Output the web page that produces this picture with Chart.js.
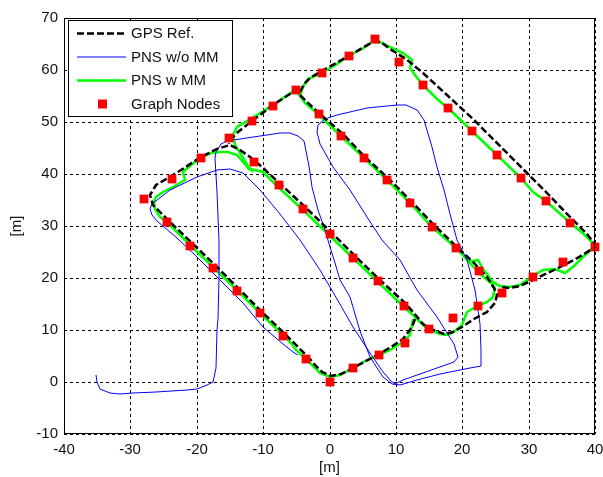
<!DOCTYPE html>
<html>
<head>
<meta charset="utf-8">
<script src="https://cdn.jsdelivr.net/npm/chart.js@4.4.1/dist/chart.umd.min.js"></script>
<style>
  html, body { margin: 0; padding: 0; background: #fff; }
  #wrap { width: 603px; height: 477px; }
</style>
</head>
<body>
<div id="wrap"><canvas id="c" width="603" height="477"></canvas></div>
<script>
// ---- Data (units: metres) ----
const xTicks = [-40, -30, -20, -10, 0, 10, 20, 30, 40];
const yTicks = [-10, 0, 10, 20, 30, 40, 50, 60, 70];

const seriesLabels = ['GPS Ref.', 'PNS w/o MM', 'PNS w MM', 'Graph Nodes'];

// GPS reference, part 1
const gpsPart1 = [
  [12.9,12.2],[12.4,10.6],[11.1,8.3],[9.3,6.7],[7.4,5.3],[5.5,4.0],[3.6,2.7],[1.8,1.6],[0.3,1.2],
  [-1.2,2.0],[-2.4,3.4],[-3.0,4.5],[-6.5,9.0],[-10.0,13.3],[-13.5,17.7],[-17.0,22.1],[-20.6,26.5],
  [-24.2,31.0],[-26.6,34.0],[-27.1,35.9],[-26.1,37.8],[-24.3,39.3],[-22.3,40.7],[-19.3,43.3],
  [-17.0,44.9],[-15.0,45.5],[-13.5,44.6],[-12.0,43.3],[-10.2,41.3],[-8.0,38.8],[-4.0,34.0],
  [0.3,28.8],[3.9,24.2],[7.6,19.7],[11.3,15.1],[12.6,13.4],[14.1,11.2],[15.3,10.1],[17.2,9.3],
  [18.6,9.7],[19.9,10.6],[21.7,12.2],[23.7,13.5],[25.0,15.1],[25.2,16.7],[24.8,18.1],[23.7,20.2],
  [21.7,22.8],[19.7,25.3],[15.8,30.2],[12.4,34.6],[8.9,39.0],[5.4,43.3],[2.0,47.6],[-1.5,51.6],
  [-3.3,53.6],[-4.4,55.1],[-5.0,56.1],[-8.5,53.3],[-11.7,50.1],[-13.8,48.0],[-15.0,46.6],[-15.2,45.8]
];
// GPS reference, part 2
const gpsPart2 = [
  [-4.5,55.8],[-3.9,57.3],[-3.0,58.5],[-1.4,59.6],[2.6,62.5],[5.2,64.4],[6.6,65.4],[7.8,65.3],
  [9.1,64.1],[11.6,62.2],[14.1,59.4],[17.7,55.1],[21.7,50.3],[25.2,45.9],[29.7,40.1],[32.7,36.3],
  [35.8,32.4],[38.8,28.5],[39.8,26.8],[39.6,25.6],[38.3,24.6],[36.8,23.4],[33.8,21.5],[30.7,19.6],
  [28.7,18.4],[27.2,18.1],[25.5,18.3]
];

// PNS without map matching
const pnsNoMM = [
  [-35.2,1.3],[-35.1,0.0],[-34.6,-1.3],[-33.1,-2.1],[-31.6,-2.4],[-29.6,-2.2],[-26.1,-1.9],
  [-21.5,-1.6],[-20.0,-1.3],[-18.5,-0.6],[-17.5,0.0],[-17.1,2.7],[-16.9,10.0],[-16.8,12.2],
  [-16.7,20.0],[-16.6,27.2],[-16.9,36.5],[-17.2,43.0],[-17.1,44.3],[-16.4,45.7],[-15.4,46.4],
  [-13.5,46.8],[-10.5,47.4],[-7.5,47.8],[-6.0,47.9],[-4.7,47.4],[-3.9,46.3],[-3.5,44.5],
  [-3.1,41.5],[-2.7,37.5],[-1.7,33.0],[-0.7,29.2],[0.1,26.0],[0.8,22.8],[1.6,19.6],[3.1,16.3],
  [4.6,9.9],[6.1,4.8],[8.1,1.0],[9.4,-0.3],[10.6,-0.6],[13.2,0.3],[16.7,1.6],[21.2,2.6],
  [22.9,3.0],[22.9,6.1],[22.7,11.2],[21.9,17.6],[20.7,23.4],[19.2,27.3],[18.2,32.4],[17.2,36.9],
  [16.2,41.3],[15.5,45.2],[14.2,50.3],[13.2,52.3],[11.6,53.2],[10.1,53.3],[5.6,52.6],[1.1,51.3],
  [-0.7,50.6],[-1.7,49.4],[-1.9,48.1],[-1.4,45.8],[0.6,41.3],[3.1,36.9],[5.6,31.7],[7.9,27.3],
  [10.6,23.4],[13.2,17.6],[16.2,12.5],[18.7,7.4],[19.4,4.8],[18.7,3.8],[16.2,2.6],[13.7,1.6],
  [11.1,0.3],[9.9,-0.4],[9.3,0.2],[8.1,1.9],[6.1,5.5],[3.6,10.6],[1.2,16.0],[-1.4,21.5],
  [-4.4,27.3],[-7.5,32.4],[-10.5,36.9],[-13.0,40.1],[-15.0,41.0],[-17.0,40.7],[-20.0,39.4],
  [-24.1,36.9],[-26.8,34.2],[-27.0,33.2],[-26.7,32.2],[-26.0,31.0],[-23.0,27.6],[-20.0,24.0],
  [-16.5,19.6],[-13.0,15.1],[-10.0,10.6],[-7.0,7.4],[-5.5,5.8],[-4.8,5.2]
];

// PNS with map matching, part 1
const pnsMMPart1 = [
  [12.6,12.2],[12.4,10.9],[12.1,9.0],[11.1,7.7],[9.1,6.1],[7.4,5.1],[5.6,4.2],[3.6,2.6],[1.6,1.4],
  [0.1,1.0],[-1.4,1.7],[-3.4,4.2],[-5.0,6.2],[-5.6,7.3],[-7.0,9.0],[-10.5,13.2],[-14.0,17.6],
  [-17.5,22.1],[-21.0,26.3],[-24.3,30.5],[-25.6,31.7],[-26.3,33.3],[-26.5,34.6],[-26.1,35.6],
  [-25.1,36.5],[-23.6,37.5],[-21.8,38.8],[-22.1,40.4],[-20.8,41.7],[-19.3,43.0],[-17.8,44.0],
  [-16.5,44.2],[-15.3,44.2],[-14.0,43.6],[-13.0,42.3],[-12.2,41.0],[-11.2,40.7],[-10.0,40.4],
  [-8.0,37.8],[-4.2,33.3],[-0.2,28.5],[3.5,23.8],[7.2,19.4],[11.1,14.7],[12.6,12.8],[14.1,10.9],
  [14.9,10.1],[16.7,9.3],[17.9,9.1],[18.9,9.8],[19.9,10.9],[20.7,13.5],[21.4,14.1],[22.3,14.7],
  [23.7,15.4],[24.7,16.3],[25.0,18.0],[24.3,19.0],[22.5,21.0],[21.0,23.0],[19.0,25.8],[15.5,29.9],
  [12.2,34.4],[8.7,38.8],[5.2,43.0],[1.8,47.4],[-1.7,51.6],[-3.7,53.6],[-4.5,55.0],[-5.2,56.1],
  [-8.5,53.2],[-12.2,50.3],[-14.0,49.0],[-14.5,47.5],[-14.2,45.5],[-13.2,43.5],[-12.3,41.5],[-11.5,40.4]
];
// PNS with map matching, part 2
const pnsMMPart2 = [
  [-4.5,55.2],[-3.9,57.1],[-3.2,58.3],[-1.2,59.5],[1.1,61.2],[2.8,62.7],[4.9,64.1],[6.4,65.3],
  [7.6,65.4],[9.1,64.4],[11.1,63.2],[12.4,61.9],[12.1,60.3],[12.9,59.0],[14.1,57.1],[16.2,54.5],
  [17.9,52.7],[21.5,48.2],[25.3,43.7],[28.9,39.2],[30.7,36.6],[32.6,34.8],[35.8,31.1],[38.8,27.9],
  [40.0,26.2],[38.3,24.2],[36.8,22.3],[35.5,20.9],[34.0,21.7],[32.2,21.5],[30.7,20.4],[28.7,18.7],
  [27.2,18.3],[25.7,18.5],[24.7,19.3],[23.2,21.8],[22.4,23.4],[20.8,23.1]
];

// Graph nodes
const nodeX = [0,3.6,7.4,11.3,15,18.6,22.4,26,30.6,35.2,40,36.3,32.6,28.9,25.3,21.5,17.9,14.1,10.5,6.8,
  2.9,-1.1,-5.1,-8.5,-11.7,-15.1,-19.4,-23.8,-28,-24.5,-21,-17.5,-14,-10.5,-7,-3.5,
  -1.6,1.8,5.2,8.7,12.2,15.5,19,22.5,-11.4,-7.6,-4,0,3.6,7.3,11.2];
const nodeY = [0,2.6,5.1,7.5,10.1,12.4,14.7,17.1,20.1,23.1,26,30.5,34.8,39.2,43.7,48.2,52.7,57.1,61.5,66,
  62.6,59.4,56.1,53.1,50.1,47,43,39,35.1,30.7,26.2,22,17.5,13.2,8.8,4.4,
  51.6,47.4,43,38.8,34.4,29.9,25.8,21.3,42.3,37.8,33.3,28.5,23.8,19.4,14.7];

// ---- Helpers ----
const toPts = arr => arr.map(p => ({x: p[0], y: p[1]}));
const joinParts = (...parts) => {
  const out = [];
  parts.forEach((p, i) => { if (i > 0) out.push({x: null, y: null}); out.push(...toPts(p)); });
  return out;
};

const FONT = '"Liberation Sans", Arial, sans-serif';

const frameAndLegend = {
  id: 'frameAndLegend',
  afterDraw(chart) {
    const {ctx, chartArea: a} = chart;
    ctx.save();
    ctx.strokeStyle = '#000';
    ctx.lineWidth = 1;
    ctx.setLineDash([]);
    ctx.strokeRect(Math.round(a.left) + 0.5, Math.round(a.top) + 0.5,
                   Math.round(a.right - a.left) - 1, Math.round(a.bottom - a.top) - 1);

    // legend box
    const bx = 68.5, by = 20.5, bw = 164, bh = 96;
    ctx.fillStyle = '#fff';
    ctx.fillRect(bx, by, bw, bh);
    ctx.strokeRect(bx, by, bw, bh);
    const rowY = [33.5, 57, 80.5, 104];
    chart.data.datasets.forEach((ds, i) => {
      const y = rowY[i];
      if (ds.showLine) {
        ctx.save();
        ctx.strokeStyle = ds.borderColor;
        ctx.lineWidth = ds.borderWidth;
        ctx.setLineDash(ds.borderDash || []);
        ctx.beginPath();
        ctx.moveTo(77, y);
        ctx.lineTo(126, y);
        ctx.stroke();
        ctx.restore();
      } else {
        ctx.fillStyle = ds.pointBackgroundColor;
        ctx.fillRect(98, y - 4.5, 9, 9);
      }
      ctx.fillStyle = '#111';
      ctx.font = '15px ' + FONT;
      ctx.textBaseline = 'middle';
      ctx.textAlign = 'left';
      ctx.fillText(ds.label, 131, y + 0.5);
    });
    ctx.restore();
  }
};

new Chart(document.getElementById('c'), {
  type: 'scatter',
  data: {
    datasets: [
      {
        label: seriesLabels[0],
        data: joinParts(gpsPart1, gpsPart2),
        showLine: true, borderColor: '#000', borderWidth: 2.5, borderDash: [7, 3],
        pointRadius: 0, spanGaps: false, order: 1, clip: false
      },
      {
        label: seriesLabels[1],
        data: toPts(pnsNoMM),
        showLine: true, borderColor: 'rgb(0,0,255)', borderWidth: 1,
        pointRadius: 0, order: 2, clip: false
      },
      {
        label: seriesLabels[2],
        data: joinParts(pnsMMPart1, pnsMMPart2),
        showLine: true, borderColor: 'rgb(0,255,0)', borderWidth: 2.5,
        pointRadius: 0, spanGaps: false, order: 3, clip: false
      },
      {
        label: seriesLabels[3],
        data: nodeX.map((x, i) => ({x, y: nodeY[i]})),
        showLine: false, pointStyle: 'rect', pointRadius: 6.2,
        pointBackgroundColor: 'rgb(255,0,0)', pointBorderWidth: 0, pointBorderColor: 'rgb(255,0,0)',
        order: 0, clip: false
      }
    ]
  },
  options: {
    responsive: false,
    animation: false,
    events: [],
    layout: { padding: { left: 0, top: 18, right: 8, bottom: 0 } },
    plugins: { legend: { display: false }, tooltip: { enabled: false } },
    scales: {
      x: {
        type: 'linear', min: -40, max: 40, alignToPixels: true,
        afterBuildTicks: s => { s.ticks = xTicks.map(v => ({value: v})); },
        afterFit: s => { s.height = 43; s.paddingLeft = 0; s.paddingRight = 0; },
        grid: { color: '#000', lineWidth: 1, drawTicks: false },
        border: { display: false, dash: [3, 3] },
        ticks: { color: '#111', font: { family: FONT, size: 15 }, padding: 7, maxRotation: 0 },
        title: { display: true, text: '[m]', color: '#111', font: { family: FONT, size: 15 }, padding: { top: 0, bottom: 0 } }
      },
      y: {
        type: 'linear', min: -10, max: 70, alignToPixels: true,
        afterBuildTicks: s => { s.ticks = yTicks.map(v => ({value: v})); },
        afterFit: s => { s.width = 64; s.paddingTop = 0; s.paddingBottom = 0; },
        grid: { color: '#000', lineWidth: 1, drawTicks: false },
        border: { display: false, dash: [3, 3] },
        ticks: { color: '#111', font: { family: FONT, size: 15 }, padding: 6 },
        title: { display: true, text: '[m]', color: '#111', font: { family: FONT, size: 15 }, padding: { top: 8, bottom: 0 } }
      }
    }
  },
  plugins: [frameAndLegend]
});
</script>
</body>
</html>
